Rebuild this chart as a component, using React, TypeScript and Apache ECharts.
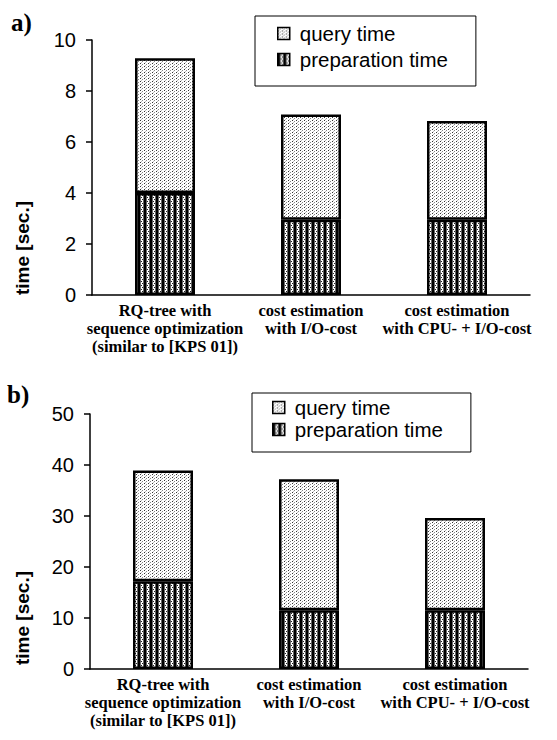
import React, { useEffect, useRef } from "react";
import * as echarts from "echarts";

const categories = [
  "RQ-tree with\nsequence optimization\n(similar to [KPS 01])",
  "cost estimation\nwith I/O-cost",
  "cost estimation\nwith CPU- + I/O-cost",
];
const seriesNames = ["query time", "preparation time"];
const aPrep = [4.0, 2.95, 2.95];
const aQuery = [5.28, 4.13, 3.87];
const bPrep = [17.2, 11.5, 11.5];
const bQuery = [21.7, 25.7, 18.1];
const aTicks = { max: 10, interval: 2 };
const bTicks = { max: 50, interval: 10 };

function makeQueryPattern(): HTMLCanvasElement {
  const c = document.createElement("canvas");
  c.width = 4;
  c.height = 3;
  const g = c.getContext("2d")!;
  g.fillStyle = "#ffffff";
  g.fillRect(0, 0, 4, 3);
  g.fillStyle = "#333";
  g.fillRect(0, 0, 1, 1);
  g.fillStyle = "#888";
  g.fillRect(2, 1, 1, 1);
  g.fillStyle = "#bbb";
  g.fillRect(1, 2, 1, 1);
  return c;
}

function makePrepPattern(): HTMLCanvasElement {
  const c = document.createElement("canvas");
  c.width = 6;
  c.height = 4;
  const g = c.getContext("2d")!;
  g.fillStyle = "#ffffff";
  g.fillRect(0, 0, 6, 4);
  g.fillStyle = "#000";
  g.fillRect(0, 0, 2, 4);
  g.fillStyle = "#666";
  g.fillRect(2, 0, 1, 4);
  g.fillRect(5, 0, 1, 4);
  g.fillStyle = "#222";
  g.fillRect(3, 1, 1, 1);
  g.fillRect(4, 3, 1, 1);
  return c;
}

const SANS = "'Liberation Sans', Arial, sans-serif";
const SERIF = "'Liberation Serif', 'Times New Roman', serif";

export default function App() {
  const ref = useRef<HTMLDivElement>(null);
  useEffect(() => {
    if (!ref.current) return;
    const chart = echarts.init(ref.current, undefined, { renderer: "svg" });
    const qPat = { image: makeQueryPattern(), repeat: "repeat" } as any;
    const pPat = { image: makePrepPattern(), repeat: "repeat" } as any;
    const grids = [
      { left: 92, top: 40, width: 438, height: 255 },
      { left: 90, top: 414, width: 438, height: 255 },
    ];
    const ticks = [aTicks, bTicks];
    const xAxis = grids.map((_, i) => ({
      type: "category",
      gridIndex: i,
      data: categories,
      axisLine: { lineStyle: { color: "#000", width: 1.5 } },
      axisTick: { show: false },
      axisLabel: {
        interval: 0,
        color: "#000",
        fontFamily: SERIF,
        fontWeight: "bold",
        fontSize: 16.5,
        lineHeight: 18,
        margin: 6,
      },
    }));
    const yAxis = grids.map((_, i) => ({
      type: "value",
      gridIndex: i,
      min: 0,
      max: ticks[i].max,
      interval: ticks[i].interval,
      splitLine: { show: false },
      axisLine: { show: true, lineStyle: { color: "#000", width: 1.5 } },
      axisTick: { show: true, length: 6, lineStyle: { color: "#000", width: 1.5 } },
      axisLabel: { color: "#000", fontFamily: SANS, fontSize: 20, margin: 16 },
    }));
    const border = { borderColor: "#000", borderWidth: 2.5 };
    const mk = (name: string, data: number[], idx: number, pat: any) => ({
      name,
      type: "bar",
      stack: "s" + idx,
      xAxisIndex: idx,
      yAxisIndex: idx,
      barWidth: 60,
      data,
      itemStyle: { color: pat, ...border },
    });
    const series = [
      mk(seriesNames[1], aPrep, 0, pPat),
      mk(seriesNames[0], aQuery, 0, qPat),
      mk(seriesNames[1], bPrep, 1, pPat),
      mk(seriesNames[0], bQuery, 1, qPat),
    ];
    const legendBase = {
      orient: "vertical",
      data: [seriesNames[0], seriesNames[1]],
      icon: "rect",
      itemWidth: 12,
      itemHeight: 12,
      borderColor: "#000",
      borderWidth: 1,
      selectedMode: false,
      textStyle: { color: "#000", fontFamily: SANS, fontSize: 20.5, padding: [0, 0, 0, 5] },
      itemStyle: { borderColor: "#000", borderWidth: 1.5 },
    };
    chart.setOption({
      animation: false,
      backgroundColor: "#fff",
      grid: grids,
      xAxis,
      yAxis,
      series,
      legend: [
        { ...legendBase, left: 255, top: 16, itemGap: 5, padding: [7, 28, 16, 22] },
        { ...legendBase, left: 252, top: 393, itemGap: 1, padding: [4, 28, 12, 20] },
      ],
      graphic: [
        { type: "text", left: 11, top: 10, style: { text: "a)", font: `bold 25px ${SERIF}`, fill: "#000" } },
        { type: "text", left: 7, top: 382, style: { text: "b)", font: `bold 25px ${SERIF}`, fill: "#000" } },
        {
          type: "text",
          x: 22,
          y: 248,
          rotation: Math.PI / 2,
          style: { text: "time [sec.]", font: `bold 19px ${SANS}`, fill: "#000", align: "center", verticalAlign: "middle" },
        },
        {
          type: "text",
          x: 22,
          y: 618,
          rotation: Math.PI / 2,
          style: { text: "time [sec.]", font: `bold 19px ${SANS}`, fill: "#000", align: "center", verticalAlign: "middle" },
        },
      ],
    });
    return () => chart.dispose();
  }, []);
  return <div ref={ref} style={{ position: "absolute", left: 0, top: 0, width: 557, height: 740 }} />;
}
